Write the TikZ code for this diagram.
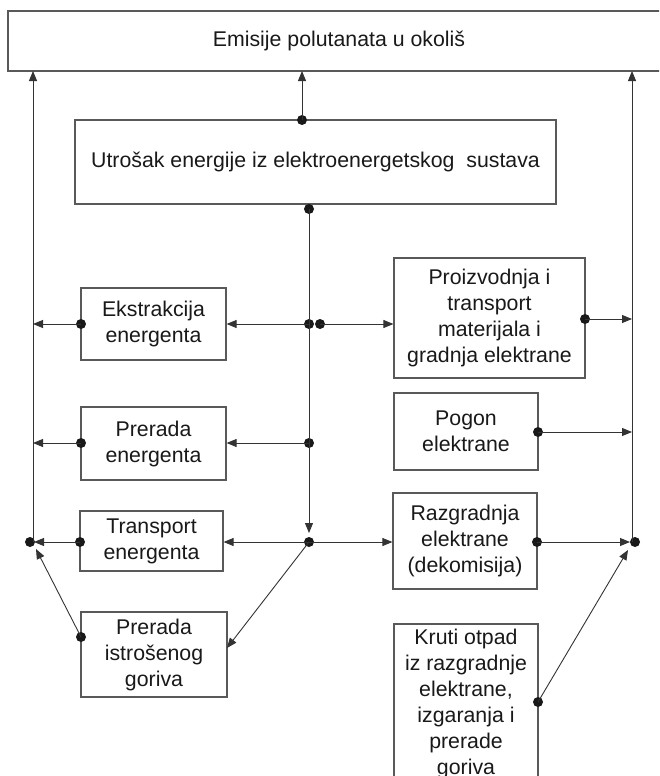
\documentclass[tikz,border=0pt]{standalone}
\usepackage{fontspec}
\setmainfont{Liberation Sans}
\usetikzlibrary{arrows.meta}
\begin{document}
\begin{tikzpicture}[x=1pt,y=-1pt,
  box/.style={draw=black!65, line width=1.2pt, inner sep=0pt, align=center,
    font=\fontsize{21.3}{26}\selectfont, text=black!90},
  arr/.style={draw=black!80, line width=0.9pt, -{Triangle[length=10pt,width=8pt]}},
  jdot/.style={circle, fill=black!90, inner sep=0pt, minimum size=10pt}]
\useasboundingbox (0,0) rectangle (659,776);
\clip (0,0) rectangle (659,776);
\fill[white] (0,0) rectangle (659,776);

% boxes
\node[box, minimum width=662pt, minimum height=60pt] (emis) at (339,41) {Emisije polutanata u okoliš};
\node[box, minimum width=481pt, minimum height=84pt] (utr) at (315.5,162) {Utrošak energije iz elektroenergetskog \ sustava};
\node[box, minimum width=145pt, minimum height=72pt] (ekst) at (153.5,324) {Ekstrakcija\\energenta};
\node[box, minimum width=191pt, minimum height=120pt] (proiz) at (489.5,318) {Proizvodnja i\\transport\\materijala i\\gradnja elektrane};
\node[box, minimum width=145pt, minimum height=73pt] (prer) at (153.5,443.5) {Prerada\\energenta};
\node[box, minimum width=144pt, minimum height=77pt] (pogon) at (466,431.5) {Pogon\\elektrane};
\node[box, minimum width=143pt, minimum height=60pt] (transp) at (151.5,541) {Transport\\energenta};
\node[box, minimum width=144pt, minimum height=96pt] (razg) at (465,541) {Razgradnja\\elektrane\\(dekomisija)};
\node[box, minimum width=146pt, minimum height=85pt] (prist) at (154,654.5) {Prerada\\istrošenog\\goriva};
\node[box, minimum width=144pt, minimum height=160pt] (kruti) at (466,704) {Kruti otpad\\iz razgradnje\\elektrane,\\izgaranja i\\prerade\\goriva};

% junction coordinates
\coordinate (eL) at (33,71);
\coordinate (eC) at (302,71);
\coordinate (eR) at (632,71);
\coordinate (Lj) at (33,542);
\coordinate (Rj) at (632,542);
\coordinate (cEnd) at (309,533);
\coordinate (L1) at (33,324);
\coordinate (L2) at (33,443);
\coordinate (L3) at (34,542);
\coordinate (L4) at (36,549);
\coordinate (R1) at (632,319);
\coordinate (R2) at (632,432);
\coordinate (R3) at (630,542);
\coordinate (R4) at (628,550);
\coordinate (pIn) at (227,648);

% dots
\node[jdot] (uTop) at (302,120) {};
\node[jdot] (uBot) at (309,209) {};
\node[jdot] (c1) at (309,324) {};
\node[jdot] (c1b) at (320,324) {};
\node[jdot] (c2) at (309,443) {};
\node[jdot] (c3) at (309,542) {};
\node[jdot] (dEkst) at (81,324) {};
\node[jdot] (dPrer) at (81,443) {};
\node[jdot] (dTransp) at (80,542) {};
\node[jdot] (dPrist) at (81,637) {};
\node[jdot] (dProiz) at (585,319) {};
\node[jdot] (dPogon) at (538,432) {};
\node[jdot] (dRazg) at (537,542) {};
\node[jdot] (dKruti) at (538,702) {};
\node[jdot] (dL) at (30,542) {};
\node[jdot] (dR) at (635,542) {};

% columns
\draw[arr] (Lj) -- (eL);
\draw[arr] (Rj) -- (eR);
\draw[arr] (uTop.center) -- (eC);
\draw[arr] (uBot.center) -- (cEnd);

% left side
\draw[arr] (c1.center) -- (ekst.east |- c1);
\draw[arr] (c1b.center) -- (proiz.west |- c1b);
\draw[arr] (dEkst.center) -- (L1);
\draw[arr] (c2.center) -- (prer.east |- c2);
\draw[arr] (dPrer.center) -- (L2);
\draw[arr] (c3.center) -- (transp.east |- c3);
\draw[arr] (c3.center) -- (razg.west |- c3);
\draw[arr] (dTransp.center) -- (L3);
\draw[arr] (c3.center) -- (pIn);
\draw[arr] (dPrist.center) -- (L4);

% right side
\draw[arr] (dProiz.center) -- (R1);
\draw[arr] (dPogon.center) -- (R2);
\draw[arr] (dRazg.center) -- (R3);
\draw[arr] (dKruti.center) -- (R4);
\end{tikzpicture}
\end{document}
